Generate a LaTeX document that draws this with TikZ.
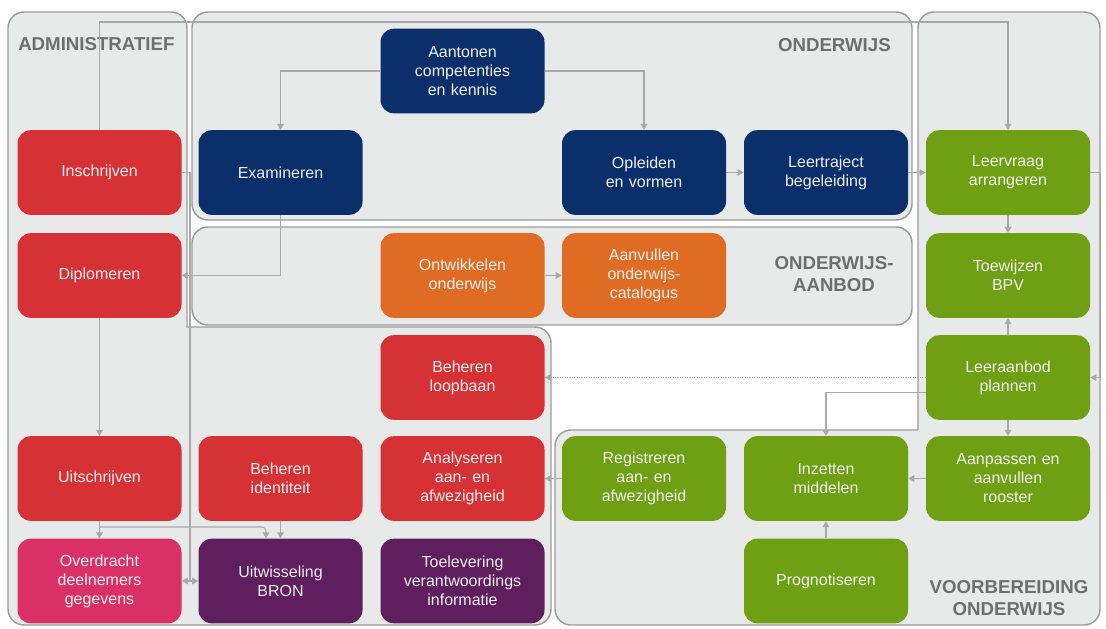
\documentclass[tikz,border=0pt]{standalone}
\usepackage{fontspec}
\setmainfont{Liberation Sans}
\usetikzlibrary{arrows.meta,calc}
\definecolor{cred}{HTML}{D63135}
\definecolor{cblue}{HTML}{0B2F6A}
\definecolor{corange}{HTML}{E06B23}
\definecolor{cgreen}{HTML}{6FA013}
\definecolor{cpink}{HTML}{D93068}
\definecolor{cpurple}{HTML}{5F1E5E}
\definecolor{panelfill}{HTML}{E8E9E9}
\definecolor{panelline}{HTML}{9C9C9C}
\definecolor{connc}{HTML}{A9A9A9}
\definecolor{titlegray}{HTML}{6E6E6E}
\begin{document}
\begin{tikzpicture}[x=0.75pt,y=-0.75pt,
  box/.style={rounded corners=10pt, minimum width=123pt, minimum height=63.5pt,
    text width=118pt, align=center, text=white!94!black, inner sep=0pt,
    font=\fontsize{12}{14.25}\selectfont},
  redbox/.style={box, fill=cred},
  bluebox/.style={box, fill=cblue},
  orangebox/.style={box, fill=corange},
  greenbox/.style={box, fill=cgreen},
  pinkbox/.style={box, fill=cpink},
  purplebox/.style={box, fill=cpurple},
  panel/.style={draw=panelline, fill=panelfill, line width=1.1pt},
  paneltitle/.style={text=titlegray, font=\bfseries\fontsize{14}{16}\selectfont, inner sep=0pt},
  connline/.style={draw=connc, line width=0.8pt},
  conn/.style={connline, -{Triangle[length=4.5pt,width=5pt]}},
  dotconn/.style={connline, densely dotted, -{Triangle[length=4.5pt,width=5pt]}}
]
\useasboundingbox (0,0) rectangle (1106,628);
\fill[white] (0,0) rectangle (1106,628);

% panels
\draw[panel] [rounded corners=12pt] (8,300) -- (8,12) -- (187,12) [sharp corners] -- (187,327) [rounded corners=12pt] -- (551,327) -- (551,625) -- (8,625) -- cycle;
\draw[panel, rounded corners=12pt] (192,12) rectangle (912,220);
\draw[panel, rounded corners=12pt] (192,227) rectangle (912,325);
\draw[panel] [rounded corners=12pt] (1100,300) -- (1100,625) -- (555,625) -- (555,430) [sharp corners] -- (918,430) [rounded corners=12pt] -- (918,12) -- (1100,12) -- cycle;

% titles
\node[paneltitle, anchor=west] (tadmin) at (18,44) {ADMINISTRATIEF};
\node[paneltitle, anchor=east] (tonderwijs) at (891,45) {ONDERWIJS};
\node[paneltitle, align=center] (taanbod) at (834,274) {ONDERWIJS-\\AANBOD};
\node[paneltitle, align=center] (tvoor) at (1009,598) {VOORBEREIDING\\ONDERWIJS};

% nodes
\node[bluebox] (aantonen) at (462.5,71) {Aantonen\\competenties\\en kennis};

\node[redbox] (insch) at (99.5,172.5) {Inschrijven};
\node[bluebox] (exam) at (280.5,172.5) {Examineren};
\node[bluebox] (opleiden) at (644,172.5) {Opleiden\\en vormen};
\node[bluebox] (leertraject) at (826,172.5) {Leertraject\\begeleiding};
\node[greenbox] (leervraag) at (1008,172.5) {Leervraag\\arrangeren};

\node[redbox] (dipl) at (99.5,275.5) {Diplomeren};
\node[orangebox] (ontw) at (462.5,275.5) {Ontwikkelen\\onderwijs};
\node[orangebox] (aanv) at (644,275.5) {Aanvullen\\onderwijs-\\catalogus};
\node[greenbox] (toew) at (1008,275.5) {Toewijzen\\BPV};

\node[redbox] (loopbaan) at (462.5,377.5) {Beheren\\loopbaan};
\node[greenbox] (leeraanbod) at (1008,377.5) {Leeraanbod\\plannen};

\node[redbox] (uitschr) at (99.5,478.5) {Uitschrijven};
\node[redbox] (behid) at (280.5,478.5) {Beheren\\identiteit};
\node[redbox] (analys) at (462.5,478.5) {Analyseren\\aan- en\\afwezigheid};
\node[greenbox] (registr) at (644,478.5) {Registreren\\aan- en\\afwezigheid};
\node[greenbox] (inzet) at (826,478.5) {Inzetten\\middelen};
\node[greenbox] (aanpas) at (1008,478.5) {Aanpassen en\\aanvullen\\rooster};

\node[pinkbox] (overdr) at (99.5,581) {Overdracht\\deelnemers\\gegevens};
\node[purplebox] (uitw) at (280.5,581) {Uitwisseling\\BRON};
\node[purplebox] (toelev) at (462.5,581) {Toelevering\\verantwoordings\\informatie};
\node[greenbox] (progn) at (826,581) {Prognotiseren};

% helper coordinates
\coordinate (topy) at (0,22);
\coordinate (vline) at (190,581);
\coordinate (rx) at (1100,0);
\coordinate (j1) at (99.5,527);
\coordinate (j2) at (266,527);

% connectors
\draw[conn] (insch.north) -- (insch.north |- topy) -| (leervraag.north);
\draw[connline] (insch.east) -| (vline);
\draw[conn] (aantonen.west) -| (exam.north);
\draw[conn] (aantonen.east) -| (opleiden.north);
\draw[conn] (opleiden.east) -- (leertraject.west);
\draw[conn] (leertraject.east) -- (leervraag.west);
\draw[conn] (exam.south) |- (dipl.east);
\draw[conn] (ontw.east) -- (aanv.west);
\draw[conn] (dipl.south) -- (uitschr.north);
\draw[conn] (uitschr.south) -- (overdr.north);
\draw[conn, rounded corners=3pt] (j1) -- (j2) -- (j2 |- uitw.north);
\draw[conn] (behid.south) -- (uitw.north);
\draw[connline, {Triangle[length=4.5pt,width=5pt]}-{Triangle[length=4.5pt,width=5pt]}] (overdr.east) -- (uitw.west);
\draw[conn] (leervraag.south) -- (toew.north);
\draw[conn] (leeraanbod.north) -- (toew.south);
\draw[conn] (leervraag.east) -- (leervraag.east -| rx) |- (leeraanbod.east);
\draw[dotconn] (leeraanbod.west) -- (loopbaan.east);
\draw[conn] ($(leeraanbod.west)+(0,15)$) -| (inzet.north);
\draw[conn] (leeraanbod.south) -- (aanpas.north);
\draw[conn] (aanpas.west) -- (inzet.east);
\draw[conn] (progn.north) -- (inzet.south);
\draw[conn] (registr.west) -- (analys.east);
\end{tikzpicture}
\end{document}
